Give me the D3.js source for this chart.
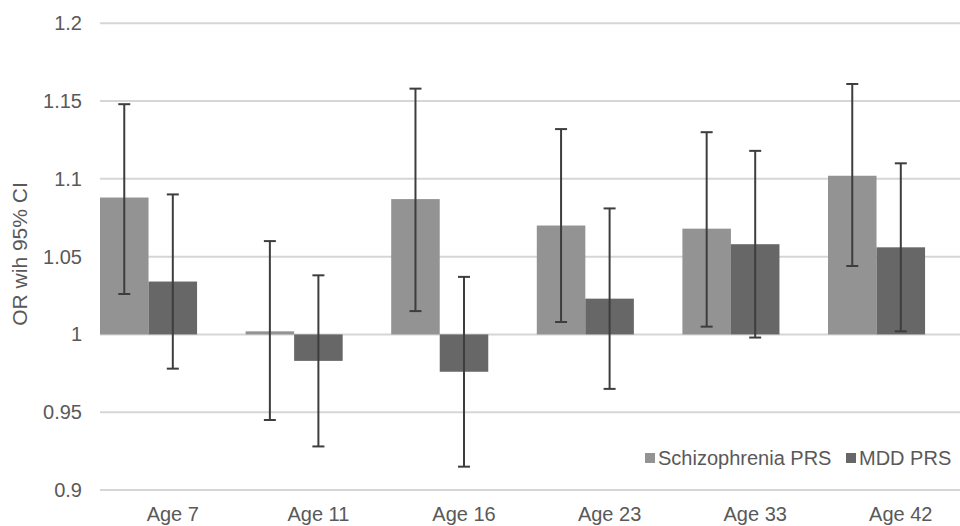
<!DOCTYPE html>
<html>
<head>
<meta charset="utf-8">
<script src="https://cdn.jsdelivr.net/npm/d3@7"></script>
<style>
  body { margin: 0; background: #fff; }
  svg { display: block; font-family: "Liberation Sans", Arial, sans-serif; }
</style>
</head>
<body>
<svg id="chart" width="960" height="526"></svg>
<script>
const ages = ["Age 7", "Age 11", "Age 16", "Age 23", "Age 33", "Age 42"];
const seriesNames = ["Schizophrenia PRS", "MDD PRS"];
const schizOR = [1.088, 1.002, 1.087, 1.070, 1.068, 1.102];
const schizLow = [1.026, 0.945, 1.015, 1.008, 1.005, 1.044];
const schizHigh = [1.148, 1.060, 1.158, 1.132, 1.130, 1.161];
const mddOR = [1.034, 0.983, 0.976, 1.023, 1.058, 1.056];
const mddLow = [0.978, 0.928, 0.915, 0.965, 0.998, 1.002];
const mddHigh = [1.090, 1.038, 1.037, 1.081, 1.118, 1.110];
const yTicks = [0.9, 0.95, 1, 1.05, 1.1, 1.15, 1.2];

const colors = {"Schizophrenia PRS": "#939393", "MDD PRS": "#676767"};

const rows = [];
ages.forEach((a, i) => {
  rows.push({age: a, series: seriesNames[0], v: schizOR[i], lo: schizLow[i], hi: schizHigh[i]});
  rows.push({age: a, series: seriesNames[1], v: mddOR[i], lo: mddLow[i], hi: mddHigh[i]});
});

const svg = d3.select("#chart");
const plotLeft = 100, plotTop = 23.3, plotBottom = 490;

const y = d3.scaleLinear().domain([0.9, 1.2]).range([plotBottom, plotTop]);
const x0 = d3.scaleBand().domain(ages).range([plotLeft, plotLeft + 6 * 145.6]);
const x1 = d3.scaleBand().domain(seriesNames).range([0, x0.bandwidth() * 2 / 3]);

// gridlines
svg.append("g").selectAll("line")
  .data(yTicks).enter().append("line")
    .attr("x1", plotLeft).attr("x2", 960)
    .attr("y1", d => y(d)).attr("y2", d => y(d))
    .attr("stroke", "#d6d6d6").attr("stroke-width", 2);

// y tick labels
svg.append("g").selectAll("text")
  .data(yTicks).enter().append("text")
    .attr("x", 82).attr("y", d => y(d)).attr("dy", "0.35em")
    .attr("text-anchor", "end").attr("fill", "#595959")
    .style("font-size", "20px")
    .text(d => d3.format("")(d));

// y axis title
svg.append("text")
  .attr("transform", "translate(27,254) rotate(-90)")
  .attr("text-anchor", "middle").attr("fill", "#595959")
  .style("font-size", "21px")
  .text("OR wih 95% CI");

// x labels
svg.append("g").selectAll("text")
  .data(ages).enter().append("text")
    .attr("x", d => x0(d) + x0.bandwidth() / 2).attr("y", 521)
    .attr("text-anchor", "middle").attr("fill", "#595959")
    .style("font-size", "20px")
    .text(d => d);

// bars
svg.append("g").selectAll("rect")
  .data(rows).enter().append("rect")
    .attr("x", d => x0(d.age) + x1(d.series))
    .attr("width", x1.bandwidth())
    .attr("y", d => y(Math.max(d.v, 1)))
    .attr("height", d => Math.abs(y(d.v) - y(1)))
    .attr("fill", d => colors[d.series]);

// error bars
const eb = svg.append("g").attr("stroke", "#3d3d3d").attr("stroke-width", 2);
rows.forEach(d => {
  const cx = x0(d.age) + x1(d.series) + x1.bandwidth() / 2;
  eb.append("line").attr("x1", cx).attr("x2", cx).attr("y1", y(d.hi)).attr("y2", y(d.lo));
  eb.append("line").attr("x1", cx - 6).attr("x2", cx + 6).attr("y1", y(d.hi)).attr("y2", y(d.hi));
  eb.append("line").attr("x1", cx - 6).attr("x2", cx + 6).attr("y1", y(d.lo)).attr("y2", y(d.lo));
});

// legend
const legendX = [645, 846];
const lg = svg.append("g");
seriesNames.forEach((s, i) => {
  lg.append("rect").attr("x", legendX[i]).attr("y", 453).attr("width", 10).attr("height", 10)
    .attr("fill", colors[s]);
  lg.append("text").attr("x", legendX[i] + 13).attr("y", 458).attr("dy", "0.35em")
    .attr("fill", "#595959").style("font-size", "20px").text(s);
});
</script>
</body>
</html>
